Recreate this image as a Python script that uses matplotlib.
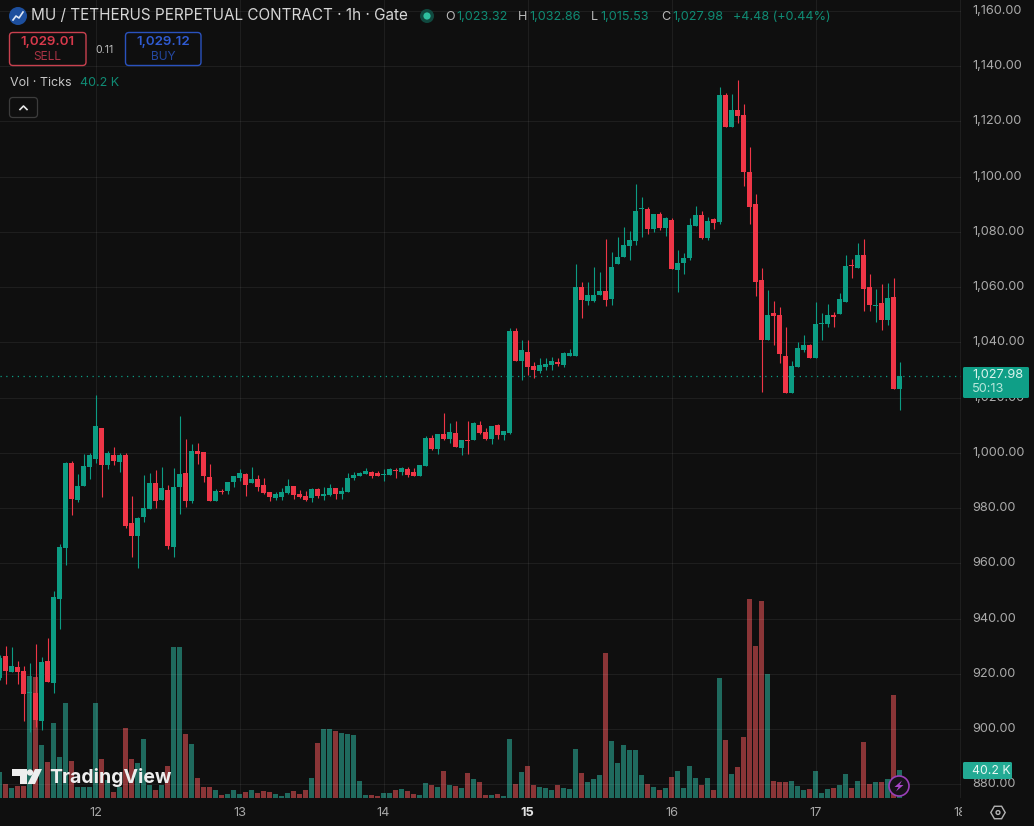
import matplotlib

matplotlib.use("Agg")
import matplotlib.pyplot as plt
import numpy as np
from matplotlib.patches import Circle, FancyBboxPatch, Polygon, Rectangle

W, H = 1034, 826
BG = "#0f0f0f"
UP = "#0c9c83"
DOWN = "#ef3647"
VOL_UP = "#1f6a5e"
VOL_DOWN = "#8a3537"
TICK_TXT = "#aaaaaa"

plt.rcParams["font.family"] = ["Inter", "DejaVu Sans"]

# hourly bars, hour 0 = midnight of the 12th
hours = np.arange(-16, 135)

opens = [
    918.5, 926.5, 920.7, 922.5, 921.0, 913.0, 913.1, 902.9, 924.6, 916.7, 947.1, 965.6, 996.3, 983.0, 988.0, 994.9,
    997.8, 1009.0, 995.6, 999.2, 996.7, 999.2, 974.6, 969.9, 976.8, 979.7, 989.1, 983.0, 986.6, 965.9, 987.7, 992.7,
    982.6, 1000.7, 1000.3, 991.3, 982.6, 986.2, 986.2, 989.5, 990.9, 992.4, 989.1, 990.6, 988.4, 985.8, 983.7, 984.0,
    985.5, 988.0, 985.1, 984.4, 983.7, 986.9, 984.4, 984.8, 987.3, 985.1, 985.8, 990.9, 991.6, 992.4, 993.1, 992.7,
    991.9, 992.0, 993.8, 993.1, 994.2, 993.1, 991.6, 995.3, 1005.4, 1001.4, 1006.9, 1005.0, 1007.2, 1001.8, 1004.7,
    1004.7, 1010.1, 1007.6, 1005.0, 1010.1, 1006.5, 1007.2, 1044.1, 1033.3, 1036.5, 1031.5, 1029.7, 1031.1, 1031.8,
    1032.9, 1031.8, 1035.1, 1035.1, 1060.1, 1055.0, 1055.0, 1057.2, 1058.6, 1055.7, 1068.4, 1070.9, 1074.9, 1076.7,
    1088.4, 1088.3, 1081.1, 1086.5, 1081.4, 1084.3, 1066.2, 1068.8, 1070.6, 1082.1, 1086.1, 1077.8, 1084.7, 1083.6,
    1129.6, 1118.0, 1124.1, 1122.3, 1101.7, 1090.1, 1062.6, 1040.9, 1050.7, 1049.9, 1035.1, 1021.7, 1031.1, 1037.3,
    1039.1, 1034.4, 1046.6, 1046.7, 1049.9, 1050.3, 1054.6, 1068.0, 1067.0, 1071.7, 1060.1, 1053.2, 1054.3, 1048.1,
    1056.5, 1023.32,
]
highs = [
    926.8, 930.1, 929.7, 924.6, 922.8, 923.9, 930.8, 926.1, 933.0, 950.0, 967.0, 996.7, 997.1, 992.4, 999.6, 1000.0,
    1020.9, 1009.0, 1000.7, 1002.1, 1000.0, 1000.0, 984.4, 976.8, 992.0, 992.7, 993.8, 994.9, 988.4, 994.5, 1013.4,
    1005.0, 1003.2, 1003.6, 1000.3, 996.0, 986.9, 986.9, 989.5, 991.6, 994.2, 992.7, 994.9, 992.0, 990.9, 985.8, 985.8,
    987.3, 990.6, 988.0, 986.6, 986.2, 987.3, 987.3, 987.7, 988.7, 987.3, 987.7, 992.7, 993.1, 993.1, 994.5, 993.5,
    993.5, 994.2, 994.5, 994.5, 994.9, 994.9, 994.5, 995.6, 1006.1, 1006.5, 1006.9, 1014.5, 1010.8, 1011.6, 1004.7,
    1011.6, 1011.2, 1011.6, 1009.0, 1009.7, 1010.5, 1007.9, 1045.2, 1045.2, 1040.9, 1040.9, 1032.9, 1034.4, 1034.4,
    1034.7, 1034.4, 1036.5, 1037.6, 1068.4, 1061.9, 1061.9, 1067.3, 1065.5, 1077.5, 1072.7, 1078.2, 1081.8, 1080.3,
    1097.4, 1092.6, 1089.0, 1086.5, 1087.2, 1085.4, 1085.0, 1073.5, 1072.4, 1085.0, 1089.4, 1087.6, 1085.4, 1085.0,
    1132.5, 1130.3, 1129.9, 1135.0, 1126.3, 1110.8, 1093.7, 1067.0, 1059.0, 1055.0, 1052.8, 1045.6, 1033.3, 1040.2,
    1042.7, 1039.4, 1054.6, 1050.7, 1053.9, 1051.0, 1057.9, 1071.7, 1070.2, 1076.0, 1077.5, 1064.8, 1059.4, 1061.2,
    1061.5, 1063.3, 1032.86,
]
lows = [
    917.8, 916.3, 920.7, 916.3, 902.9, 899.0, 900.8, 899.7, 917.0, 913.1, 936.2, 959.4, 977.5, 982.2, 988.0, 990.6,
    996.3, 984.0, 994.2, 995.6, 993.1, 972.8, 962.3, 958.3, 975.0, 979.7, 980.1, 983.0, 965.2, 962.3, 977.9, 980.4,
    981.9, 996.0, 989.5, 982.6, 982.6, 985.1, 985.1, 987.7, 989.8, 984.4, 989.1, 986.2, 985.1, 982.6, 983.0, 983.0,
    985.1, 983.3, 983.7, 982.6, 982.2, 983.7, 983.0, 984.4, 983.3, 983.3, 985.8, 990.2, 991.6, 992.4, 990.9, 991.6,
    989.8, 992.0, 990.9, 992.0, 991.3, 991.6, 991.6, 995.3, 1001.1, 999.6, 1004.7, 1003.6, 1002.1, 999.2, 999.6,
    1004.7, 1006.9, 1004.7, 1003.2, 1005.0, 1004.7, 1006.9, 1033.3, 1026.4, 1028.2, 1027.1, 1029.0, 1030.0, 1030.0,
    1031.5, 1031.1, 1035.1, 1035.1, 1048.8, 1053.6, 1054.6, 1057.2, 1053.2, 1053.6, 1068.4, 1070.9, 1069.8, 1075.3,
    1078.2, 1079.3, 1080.0, 1080.7, 1078.5, 1066.6, 1058.3, 1064.8, 1069.8, 1082.1, 1077.5, 1077.1, 1081.1, 1082.9,
    1118.0, 1118.0, 1119.5, 1096.6, 1082.9, 1056.8, 1022.1, 1040.9, 1039.1, 1032.5, 1021.7, 1021.7, 1031.1, 1036.5,
    1034.4, 1034.4, 1040.9, 1045.6, 1045.6, 1050.3, 1054.6, 1063.3, 1067.0, 1051.4, 1051.4, 1047.4, 1044.5, 1046.3,
    1023.3, 1015.53,
]
closes = [
    925.7, 921.0, 922.8, 920.7, 912.7, 913.2, 903.3, 924.3, 917.0, 947.8, 965.9, 996.3, 983.3, 988.0, 995.3, 999.2,
    1009.7, 995.6, 1000.0, 997.1, 999.2, 973.5, 969.9, 976.4, 980.1, 989.1, 982.6, 987.3, 966.3, 987.7, 992.4, 982.6,
    1000.7, 999.6, 991.6, 982.6, 986.2, 985.9, 989.5, 991.6, 992.7, 988.4, 990.6, 987.7, 985.5, 984.0, 985.1, 985.8,
    988.0, 984.8, 984.0, 983.0, 986.9, 984.4, 985.1, 987.3, 985.1, 986.2, 990.9, 992.0, 992.7, 993.5, 991.6, 991.6,
    992.1, 994.2, 993.5, 994.5, 992.0, 991.6, 995.6, 1005.4, 1001.4, 1006.9, 1005.0, 1007.6, 1002.1, 1004.7, 1004.3,
    1010.8, 1007.2, 1005.0, 1009.7, 1006.5, 1007.9, 1044.1, 1033.3, 1037.3, 1031.1, 1030.0, 1031.8, 1032.2, 1033.3,
    1032.2, 1036.2, 1036.2, 1060.1, 1055.4, 1057.2, 1057.2, 1058.6, 1055.4, 1067.3, 1070.9, 1075.3, 1077.1, 1087.6,
    1088.7, 1081.1, 1086.5, 1081.4, 1085.0, 1066.6, 1068.8, 1070.6, 1082.5, 1086.1, 1077.8, 1084.0, 1083.2, 1129.6,
    1118.0, 1124.1, 1122.0, 1101.7, 1089.0, 1061.9, 1040.9, 1049.9, 1049.6, 1035.8, 1021.7, 1031.5, 1038.0, 1039.1,
    1034.4, 1046.7, 1046.8, 1049.9, 1049.2, 1055.7, 1067.7, 1067.7, 1071.7, 1059.4, 1053.6, 1053.6, 1048.1, 1056.1,
    1023.3, 1027.98,
]
# tick volume, thousands
volume_k = [
    38.2, 20.3, 14.5, 17.4, 17.4, 176.9, 175.9, 76.8, 52.2, 108.3, 59.4, 137.3, 53.6, 16.4, 16.4, 16.4, 137.3, 56.5,
    26.1, 9.2, 16.4, 101.5, 56.5, 50.7, 85.5, 18.8, 11.6, 18.8, 46.4, 218.5, 218.5, 92.8, 78.3, 29.0, 15.9, 15.9, 11.6,
    4.3, 5.8, 11.6, 5.8, 8.7, 11.6, 7.2, 10.1, 8.7, 5.8, 2.9, 7.2, 10.1, 5.8, 11.6, 29.0, 79.7, 100.0, 100.0, 97.1,
    94.2, 92.8, 91.3, 24.6, 4.3, 4.3, 3.4, 7.2, 7.2, 11.6, 13.0, 10.1, 5.8, 4.3, 21.7, 18.8, 15.9, 39.1, 18.8, 17.4,
    14.5, 36.2, 27.5, 23.2, 4.3, 4.3, 5.8, 2.9, 85.5, 20.3, 37.7, 46.4, 18.8, 15.9, 14.5, 11.6, 18.8, 14.5, 13.0, 71.5,
    36.2, 23.2, 27.5, 33.3, 209.8, 82.6, 50.7, 76.8, 69.6, 69.6, 33.3, 20.3, 15.9, 11.6, 14.5, 30.4, 39.1, 14.5, 46.4,
    28.5, 18.8, 28.5, 11.1, 173.5, 83.6, 34.3, 44.5, 88.4, 288.0, 219.9, 285.1, 179.3, 24.2, 22.7, 22.7, 24.2, 16.9,
    11.1, 12.6, 38.7, 6.8, 12.6, 14.0, 18.4, 34.3, 14.0, 24.2, 80.7, 19.8, 22.7, 22.7, 27.1, 148.9, 40.2,
]

day_hours = [0, 24, 48, 72, 96, 120, 144]
day_labels = ["12", "13", "14", "15", "16", "17", "18"]
price_ticks = list(range(880, 1161, 20))
last_price = 1027.98

opens, highs, lows, closes = map(np.array, (opens, highs, lows, closes))
volume_k = np.array(volume_k)
rising = closes >= opens

fig = plt.figure(figsize=(W / 100, H / 100), dpi=100, facecolor=BG)
plot_rect = [0, 1 - 798 / H, 961 / W, 798 / H]

# volume sits behind the candles on its own scale
vol_ax = fig.add_axes(plot_rect, facecolor=BG, zorder=1)
vol_colors = [VOL_UP if r else VOL_DOWN for r in rising]
vol_colors[hours.tolist().index(114)] = VOL_DOWN  # doji closed flat on the print
vol_ax.bar(hours, volume_k, width=0.84, color=vol_colors, linewidth=0)
vol_ax.set_ylim(0, 798 * 1.45)
vol_ax.set_xlim(-15.92, 144.25)
vol_ax.axis("off")

ax = fig.add_axes(plot_rect, zorder=2)
ax.patch.set_visible(False)
ax.set_xlim(-15.92, 144.25)
ax.set_ylim(875.06, 1163.98)
for h in day_hours:
    ax.axvline(h, color="white", alpha=0.065, lw=0.72, zorder=1)
for p in price_ticks:
    ax.axhline(p, color="white", alpha=0.065, lw=0.72, zorder=1)

candle_colors = [UP if r else DOWN for r in rising]
ax.vlines(hours, lows, highs, colors=candle_colors, linewidth=0.8, zorder=3)
bottoms = np.minimum(opens, closes)
heights = np.maximum(np.abs(closes - opens), 0.45)
ax.bar(hours, heights, bottom=bottoms, width=0.84, color=candle_colors, linewidth=0, zorder=4)
ax.axhline(last_price, color=UP, lw=0.9, ls=(0, (1, 3.6)), zorder=2)
for side in ax.spines.values():
    side.set_visible(False)
ax.set_xticks([])
ax.set_yticks([])

# chrome around the chart, in pixel coordinates
ui = fig.add_axes([0, 0, 1, 1], zorder=3)
ui.patch.set_visible(False)
ui.set_xlim(0, W)
ui.set_ylim(H, 0)
ui.axis("off")


def label(x, y, s, color=TICK_TXT, size=9.2, ha="left", weight="normal", **kw):
    return ui.text(x, y, s, color=color, fontsize=size, ha=ha, va="center", fontweight=weight, **kw)


def pill(x0, y0, x1, y1, edge, face="none", rad=3.5, lw=1.0, z=2):
    ui.add_patch(FancyBboxPatch((x0 + rad, y0 + rad), x1 - x0 - 2 * rad, y1 - y0 - 2 * rad,
                                boxstyle=f"round,pad={rad},rounding_size={rad}",
                                fc=face, ec=edge, lw=lw, zorder=z))


# price scale
for p in price_ticks:
    y = np.interp(p, [875.06, 1163.98], [798, 0])
    label(972, y, f"{p:,.2f}", zorder=1)

# time scale; the 18 runs under the edge of the price pane
for h, s in zip(day_hours, day_labels):
    x = (h + 15.92) * 6
    bold = s == "15"
    t = label(x, 812.5, s, color="#e2e2e2" if bold else "#a8a8a8", ha="center",
              weight="bold" if bold else "normal")
    if s == "18":
        t.set_clip_path(Rectangle((0, 800), 962, 26, transform=ui.transData))
        t.set_clip_on(True)

# header
ui.add_patch(Circle((18, 16), 9, fc="#1d4f9e", ec="none"))
ui.plot([13, 16, 19, 23], [20, 16, 18, 12], color="#dfe8f6", lw=1.2)
label(31, 16, "MU / TETHERUS PERPETUAL CONTRACT \u00b7 1h \u00b7 Gate", color="#d6d6d6", size=11.0)
ui.add_patch(Circle((427, 16), 7, fc="#10493f", ec="none"))
ui.add_patch(Circle((427, 16), 3.6, fc="#2ebf9f", ec="none"))
GREEN_TXT = "#0f8b74"
for x, s, c in [(445, "O", "#b8b8b8"), (456, "1,023.32", GREEN_TXT), (518, "H", "#b8b8b8"),
                (529, "1,032.86", GREEN_TXT), (591, "L", "#b8b8b8"), (600, "1,015.53", GREEN_TXT),
                (661, "C", "#b8b8b8"), (672, "1,027.98", GREEN_TXT), (733, "+4.48 (+0.44%)", GREEN_TXT)]:
    label(x, 16.5, s, color=c, size=9.1)

# quick trade buttons
pill(9.5, 32.5, 86, 65.5, "#c9414f")
label(47.5, 42, "1,029.01", color="#d8394b", size=9.6, ha="center", weight="semibold")
label(47.5, 56.5, "SELL", color="#a93344", size=8.6, ha="center")
label(105, 50, "0.11", color="#bdbdbd", size=7.6, ha="center")
pill(125.5, 32.5, 201, 65.5, "#2a52be")
label(163.5, 42, "1,029.12", color="#2f5bd2", size=9.6, ha="center", weight="semibold")
label(163.5, 56.5, "BUY", color="#24479f", size=8.6, ha="center")

label(9.5, 82.5, "Vol \u00b7 Ticks", color="#c6c6c6", size=9.0)
label(79.5, 82.5, "40.2 K", color=GREEN_TXT, size=9.0)
pill(9.5, 97.5, 37.5, 117.5, "#3c3c3c", lw=0.9)
ui.plot([20, 23.5, 27], [109.5, 106, 109.5], color="#e6e6e6", lw=1.2)

# last price and volume tags
pill(963, 367, 1029, 398, "none", face="#0f9f87", rad=1.5, z=3)
label(972, 375, "1,027.98", color="#d9f3ec", zorder=4)
label(972, 389, "50:13", color="#b5e6da", zorder=4)
pill(963, 762, 1012, 779, "none", face="#23aa94", rad=1.5, z=3)
label(972, 771, "40.2 K", color="#e9f8f4", size=8.8, zorder=4)

# TradingView mark
ui.add_patch(Polygon([(12, 769), (27, 769), (27, 784), (20, 784), (20, 776), (12, 776)], fc="#eeeeee", ec="none"))
ui.add_patch(Circle((30, 772.5), 3.2, fc="#eeeeee", ec="none"))
ui.add_patch(Polygon([(35, 769), (42, 769), (35, 784), (27.5, 784)], fc="#eeeeee", ec="none"))
label(49.5, 777.5, "TradingView", color="#eeeeee", size=14.0, weight="bold")

# purple bolt badge
ui.add_patch(Circle((899, 786), 10, fc="#161218", ec="#9a3fb8", lw=1.2, zorder=3))
ui.add_patch(Polygon([(902, 780.5), (894.5, 787), (898.5, 787), (896, 791.5), (903.5, 785), (899.5, 785)],
                     fc="#a946c8", ec="none", zorder=4))

# settings hexagon
ang = np.radians(np.arange(0, 360, 60))
ui.add_patch(Polygon(np.column_stack([998 + 7.2 * np.cos(ang), 812.5 + 7.2 * np.sin(ang)]),
                     fc="none", ec="#b4b4b4", lw=1.0))
ui.add_patch(Circle((998, 812.5), 1.9, fc="none", ec="#b4b4b4", lw=1.0))

fig.savefig("out.png", dpi=100, facecolor=BG)
plt.close(fig)
